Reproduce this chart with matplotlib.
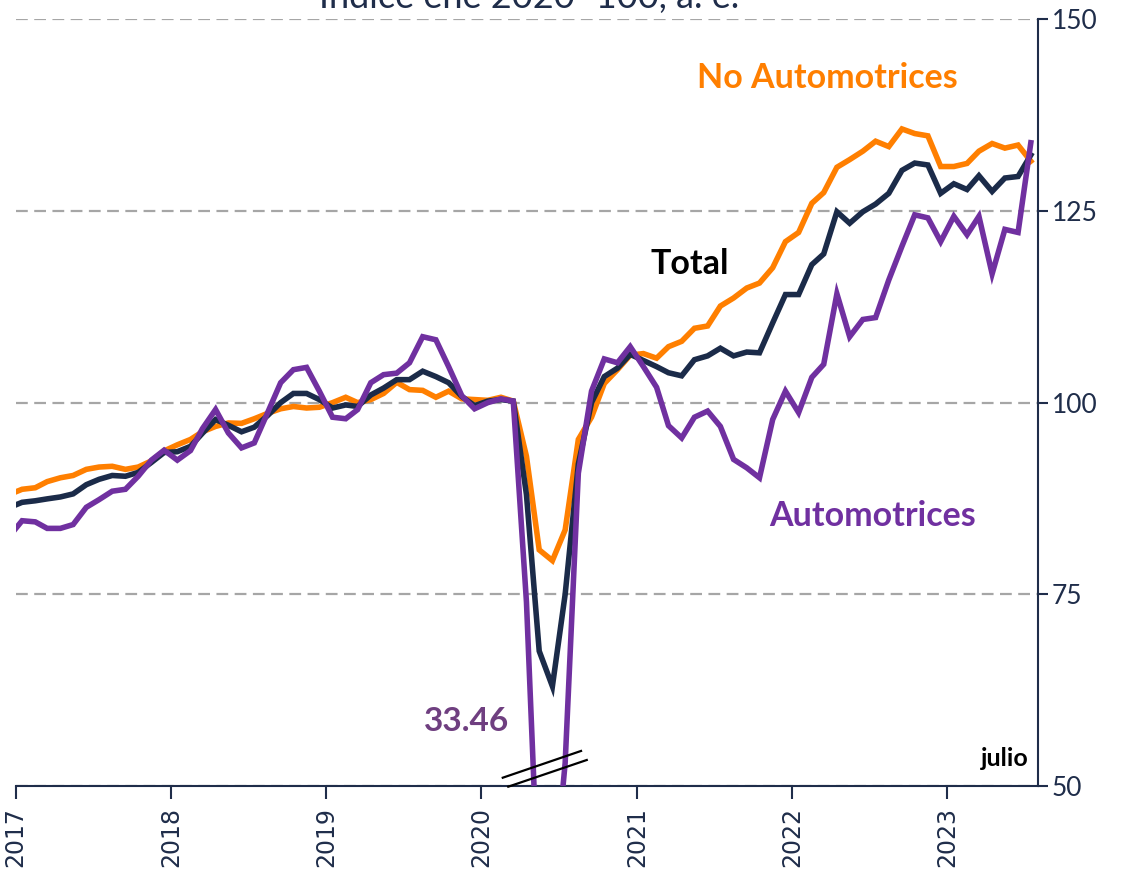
import matplotlib
matplotlib.use('Agg')
import matplotlib.pyplot as plt
import matplotlib.dates as mdates
import pandas as pd

# ---------------------- DATA (indice ene 2020=100, a. e.) ----------------------
# monthly, Dec 2016 .. Jul 2023 (points sit mid-month)
months = pd.date_range('2016-12-01', '2023-07-01', freq='MS') + pd.Timedelta(days=15)

no_automotrices = [88.0,
    88.7, 88.9, 89.7, 90.2, 90.5, 91.3, 91.6, 91.7, 91.3, 91.6, 92.4, 93.7,
    94.5, 95.2, 96.2, 96.9, 97.35, 97.3, 97.9, 98.6, 99.2, 99.5, 99.3, 99.4,
    100.0, 100.7, 100.0, 100.4, 101.2, 102.65, 101.7, 101.6, 100.7, 101.5, 100.5, 100.4,
    100.3, 100.7, 100.2, 93.0, 80.8, 79.4, 83.4, 95.2, 98.1, 102.5, 104.3, 106.2,
    106.4, 105.8, 107.3, 108.0, 109.7, 110.0, 112.6, 113.65, 114.95, 115.6, 117.6, 121.0,
    122.2, 126.0, 127.4, 130.7, 131.7, 132.8, 134.1, 133.4, 135.7, 135.1, 134.8, 130.8,
    130.8, 131.2, 132.8, 133.8, 133.2, 133.6, 131.5]

total = [86.3,
    87.0, 87.2, 87.45, 87.7, 88.1, 89.3, 90.0, 90.5, 90.4, 90.9, 92.2, 93.5,
    93.6, 94.3, 96.0, 97.8, 97.05, 96.2, 96.8, 98.3, 100.0, 101.2, 101.2, 100.4,
    99.3, 99.7, 99.5, 101.0, 101.9, 103.0, 103.0, 104.1, 103.4, 102.6, 100.8, 99.6,
    100.2, 100.4, 100.2, 88.0, 67.6, 63.0, 75.0, 92.0, 100.0, 103.4, 104.5, 106.3,
    105.5, 104.7, 103.9, 103.5, 105.6, 106.1, 107.1, 106.1, 106.6, 106.5, 110.4, 114.1,
    114.1, 118.0, 119.4, 124.9, 123.4, 124.9, 125.9, 127.3, 130.3, 131.25, 131.0, 127.3,
    128.55, 127.8, 129.6, 127.55, 129.3, 129.5, 132.3]

automotrices = [82.5,
    84.6, 84.45, 83.6, 83.6, 84.1, 86.35, 87.35, 88.45, 88.7, 90.4, 92.5, 93.8,
    92.5, 93.75, 96.6, 99.1, 96.05, 94.1, 94.75, 98.65, 102.6, 104.3, 104.6, 101.5,
    98.1, 97.9, 99.1, 102.6, 103.65, 103.85, 105.2, 108.6, 108.2, 104.7, 100.9, 99.2,
    100.0, 100.5, 100.2, 74.0, 33.46, 35.0, 53.0, 90.8, 101.5, 105.7, 105.2, 107.3,
    104.7, 102.0, 97.0, 95.4, 98.1, 98.9, 96.9, 92.6, 91.5, 90.2, 97.8, 101.5,
    98.7, 103.3, 105.0, 114.2, 108.6, 110.85, 111.1, 116.0, 120.4, 124.5, 124.1, 121.0,
    124.3, 121.9, 124.3, 116.8, 122.6, 122.2, 133.9]

y_ticks = [50, 75, 100, 125, 150]

ORANGE = '#FF7F00'
NAVY = '#1B2B49'
PURPLE = '#7030A0'
AXCOL = '#1F2D4A'
FONT = ['Lato', 'DejaVu Sans']

# ---------------------- PLOTTING ----------------------
fig = plt.figure(figsize=(11.22, 8.74), dpi=100)
ax = fig.add_axes([0.014, 0.1007, 0.9108, 0.8772])

ax.plot(months, no_automotrices, color=ORANGE, lw=4.0, solid_joinstyle='miter', zorder=3)
ax.plot(months, total, color=NAVY, lw=4.0, solid_joinstyle='miter', zorder=4)
ax.plot(months, automotrices, color=PURPLE, lw=4.0, solid_joinstyle='miter', zorder=5)

ax.set_ylim(50, 150)
ax.set_xlim(pd.Timestamp('2017-01-01'), pd.Timestamp('2023-08-01'))

# axes look
for s in ['left', 'top']:
    ax.spines[s].set_visible(False)
for s in ['right', 'bottom']:
    ax.spines[s].set_color(AXCOL)
    ax.spines[s].set_linewidth(1.5)

ax.yaxis.tick_right()
ax.set_yticks(y_ticks)
ax.tick_params(axis='y', direction='out', length=7, width=1.5, color=AXCOL,
               labelcolor=AXCOL, labelsize=19, pad=3)
for lab in ax.get_yticklabels():
    lab.set_family(FONT)

ax.xaxis.set_major_locator(mdates.YearLocator())
ax.xaxis.set_major_formatter(mdates.DateFormatter('%Y'))
ax.tick_params(axis='x', direction='out', length=9, width=1.5, color=AXCOL,
               labelcolor=AXCOL, labelsize=17, labelrotation=90, pad=6)

ax.yaxis.grid(True, color='#A6A6A6', lw=1.6, linestyle=(0, (5.3, 2.9)))
ax.set_axisbelow(True)

# series labels
ax.text(0.794, 0.923, 'No Automotrices', transform=ax.transAxes, color=ORANGE,
        fontsize=24.5, fontweight='bold', family=FONT, ha='center', va='center')
ax.text(0.660, 0.681, 'Total', transform=ax.transAxes, color='black',
        fontsize=24.5, fontweight='bold', family=FONT, ha='center', va='center')
ax.text(0.838, 0.352, 'Automotrices', transform=ax.transAxes, color=PURPLE,
        fontsize=24.5, fontweight='bold', family=FONT, ha='center', va='center')
ax.text(0.968, 0.0365, 'julio', transform=ax.transAxes, color='black',
        fontsize=18, fontweight='bold', family=FONT, ha='center', va='center')
ax.text(0.4416, 0.0835, '%.2f' % min(automotrices), transform=ax.transAxes, color='#6F3F80',
        fontsize=24, fontweight='bold', family=FONT, ha='center', va='center')

# axis break marks
ax.plot([0.4766, 0.5532], [0.0108, 0.0457], transform=ax.transAxes, color='black',
        lw=1.6, clip_on=False, zorder=6)
ax.plot([0.4820, 0.5588], [-0.0009, 0.0339], transform=ax.transAxes, color='black',
        lw=1.6, clip_on=False, zorder=6)

# title, mostly cut off at the top of the image as in the source chart
fig.text(0.472, 1 - 8 / 874, u'Índice ene 2020=100, a. e.', color=AXCOL, fontsize=26,
         family=FONT, ha='center', va='baseline')

fig.savefig('out.png', dpi=100)
